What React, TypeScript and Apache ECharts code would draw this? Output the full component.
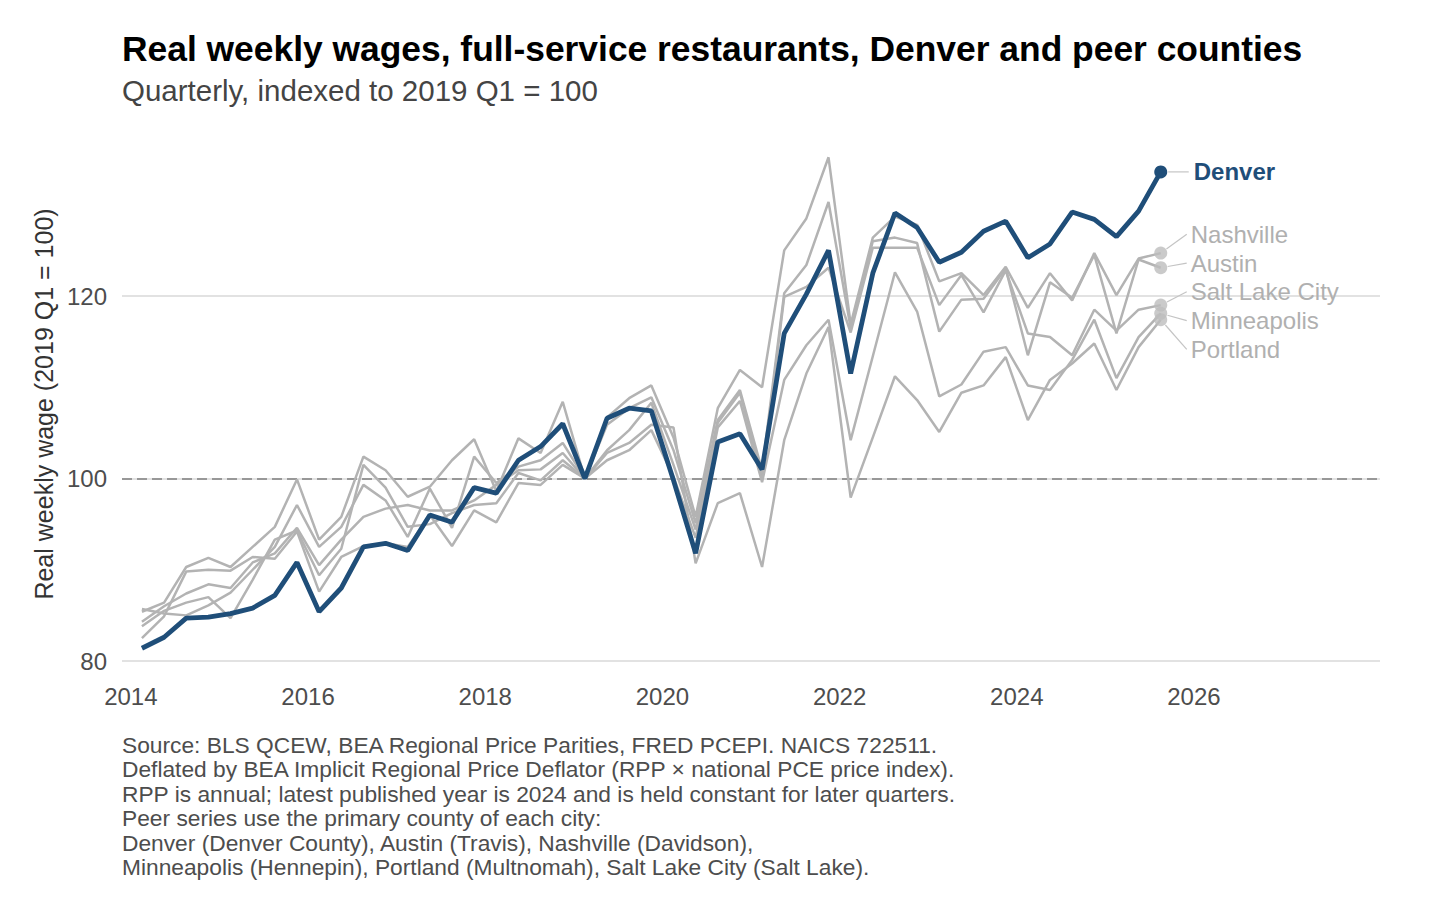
import React, { useEffect, useRef } from "react";
import * as echarts from "echarts";

const QUARTERS = [
  "2014 Q1", "2014 Q2", "2014 Q3", "2014 Q4",
  "2015 Q1", "2015 Q2", "2015 Q3", "2015 Q4",
  "2016 Q1", "2016 Q2", "2016 Q3", "2016 Q4",
  "2017 Q1", "2017 Q2", "2017 Q3", "2017 Q4",
  "2018 Q1", "2018 Q2", "2018 Q3", "2018 Q4",
  "2019 Q1", "2019 Q2", "2019 Q3", "2019 Q4",
  "2020 Q1", "2020 Q2", "2020 Q3", "2020 Q4",
  "2021 Q1", "2021 Q2", "2021 Q3", "2021 Q4",
  "2022 Q1", "2022 Q2", "2022 Q3", "2022 Q4",
  "2023 Q1", "2023 Q2", "2023 Q3", "2023 Q4",
  "2024 Q1", "2024 Q2", "2024 Q3", "2024 Q4",
  "2025 Q1", "2025 Q2", "2025 Q3",
];

const DENVER = [
  81.4, 82.6, 84.7, 84.8, 85.2, 85.8, 87.2, 90.8, 85.4, 88.0, 92.5, 92.9,
  92.1, 96.0, 95.2, 99.0, 98.4, 102.0, 103.5, 106.0, 100.0, 106.6, 107.7, 107.4,
  99.8, 91.8, 104.0, 104.9, 101.0, 115.9, 120.2, 125.0, 111.5, 122.5, 129.1, 127.5,
  123.7, 124.8, 127.1, 128.2, 124.2, 125.7, 129.2, 128.4, 126.5, 129.3, 133.6,
];

const NASHVILLE = [
  85.4, 86.4, 90.3, 91.3, 90.3, 92.5, 94.7, 99.9, 93.3, 95.8, 102.4, 100.9,
  98.0, 99.1, 102.0, 104.3, 98.6, 104.4, 102.8, 108.4, 100.0, 106.7, 108.8, 110.2,
  104.5, 95.8, 107.7, 111.9, 110.0, 125.0, 128.5, 135.2, 116.9, 126.4, 128.7, 127.8,
  121.6, 122.5, 120.1, 123.2, 118.7, 122.5, 119.5, 124.7, 120.1, 124.1, 124.7,
];

const AUSTIN = [
  85.7, 85.2, 85.0, 86.1, 87.5, 90.0, 92.5, 97.1, 92.5, 94.7, 99.3, 97.6,
  93.6, 98.9, 94.6, 102.4, 99.5, 101.3, 102.0, 103.9, 100.0, 105.9, 107.7, 108.9,
  103.1, 95.1, 106.4, 109.7, 100.9, 120.3, 123.4, 130.3, 116.5, 126.0, 126.4, 125.8,
  116.1, 119.6, 119.7, 123.0, 113.5, 121.5, 119.8, 124.5, 115.9, 124.0, 123.1,
];

const SALT_LAKE_CITY = [
  84.3, 86.0, 87.4, 88.4, 88.0, 90.8, 91.8, 94.6, 90.5, 93.3, 95.8, 96.7,
  97.1, 96.5, 96.5, 97.6, 99.3, 100.9, 101.0, 102.8, 100.0, 103.1, 105.3, 108.3,
  101.5, 94.4, 106.1, 109.4, 100.2, 119.9, 121.0, 123.1, 116.0, 125.3, 125.3, 125.3,
  119.0, 122.3, 118.2, 122.8, 115.9, 115.5, 113.5, 118.5, 116.2, 118.5, 119.0,
];

const MINNEAPOLIS = [
  82.5, 84.9, 89.8, 90.0, 89.9, 91.4, 91.2, 94.2, 87.6, 91.4, 92.6, 92.9,
  92.5, 96.0, 92.6, 96.5, 95.2, 99.5, 99.3, 101.5, 100.0, 102.0, 103.1, 105.3,
  100.2, 93.5, 105.6, 108.5, 99.6, 110.8, 114.6, 117.4, 104.2, 113.4, 122.6, 118.3,
  109.0, 110.3, 113.9, 114.4, 110.2, 109.7, 113.0, 117.4, 111.0, 115.5, 118.1,
];

const PORTLAND = [
  83.8, 85.5, 86.4, 87.0, 84.7, 88.9, 93.3, 94.3, 89.4, 92.3, 101.5, 99.0,
  94.7, 95.0, 96.2, 97.1, 97.3, 100.6, 99.8, 102.0, 100.0, 102.8, 103.9, 105.9,
  105.6, 90.7, 97.3, 98.4, 90.3, 104.2, 111.5, 116.6, 97.9, 104.5, 111.2, 108.6,
  105.1, 109.4, 110.2, 113.3, 106.4, 110.8, 112.6, 114.8, 109.7, 114.4, 117.4,
];

const PEER_NAMES = ["Nashville", "Austin", "Salt Lake City", "Minneapolis", "Portland"];
const PEER_VALUES = [NASHVILLE, AUSTIN, SALT_LAKE_CITY, MINNEAPOLIS, PORTLAND];

const X_TICKS = [2014, 2016, 2018, 2020, 2022, 2024, 2026];
const Y_TICKS = [80, 100, 120];

const TITLE = "Real weekly wages, full-service restaurants, Denver and peer counties";
const SUBTITLE = "Quarterly, indexed to 2019 Q1 = 100";
const Y_TITLE = "Real weekly wage (2019 Q1 = 100)";
const CAPTION = [
  "Source: BLS QCEW, BEA Regional Price Parities, FRED PCEPI. NAICS 722511.",
  "Deflated by BEA Implicit Regional Price Deflator (RPP \u00d7 national PCE price index).",
  "RPP is annual; latest published year is 2024 and is held constant for later quarters.",
  "Peer series use the primary county of each city:",
  "Denver (Denver County), Austin (Travis), Nashville (Davidson),",
  "Minneapolis (Hennepin), Portland (Multnomah), Salt Lake City (Salt Lake).",
];

const FONT = '"Liberation Sans", Arial, Helvetica, sans-serif';
const BLUE = "#1f4e79";
const GRAY = "#b3b3b3";
const LABEL_GRAY = "#b0b0b0";

const quarterToYear = (q: string) =>
  parseInt(q.slice(0, 4), 10) + (parseInt(q.slice(6), 10) - 1) * 0.25 + 0.125;

const XS = QUARTERS.map(quarterToYear);
const pairs = (vals: number[]) => vals.map((v, i) => [XS[i], v]);

export default function App() {
  const ref = useRef<HTMLDivElement>(null);

  useEffect(() => {
    if (!ref.current) return;
    const chart = echarts.init(ref.current, undefined, { renderer: "svg" });
    const last = XS.length - 1;

    const grayLines = PEER_NAMES.map((name, k) => ({
      name,
      type: "line",
      data: pairs(PEER_VALUES[k]),
      showSymbol: false,
      symbol: "none",
      silent: true,
      z: 2,
      lineStyle: { color: GRAY, width: 2.5 },
    }));

    const option: any = {
      animation: false,
      backgroundColor: "#ffffff",
      grid: {
        left: 122,
        right: 76,
        top: 113.5,
        bottom: 249,
        containLabel: false,
        outerBoundsMode: "none",
      },
      xAxis: {
        type: "value",
        min: 2013.9,
        max: 2028.1,
        axisLine: { show: false },
        axisTick: { show: false },
        splitLine: { show: false },
        axisLabel: {
          customValues: X_TICKS,
          fontSize: 24,
          fontFamily: FONT,
          color: "#4d4d4d",
          margin: 23,
          formatter: (v: number) => String(v),
        },
      },
      yAxis: [
        {
          type: "value",
          min: 80,
          max: 140,
          interval: 20,
          axisLine: { show: false },
          axisTick: { show: false },
          splitLine: {
            show: true,
            lineStyle: {
              color: ["#e2e2e2", "#e2e2e2", "#e2e2e2", "rgba(0,0,0,0)"],
              width: 2,
            },
          },
          axisLabel: {
            fontSize: 24,
            fontFamily: FONT,
            color: "#4d4d4d",
            margin: 15,
            formatter: (v: number) => (Y_TICKS.indexOf(v) >= 0 ? String(v) : ""),
          },
        },
        {
          type: "value",
          min: 80,
          max: 140,
          interval: 20,
          position: "left",
          axisLine: { show: false },
          axisTick: { show: false },
          axisLabel: { show: false },
          splitLine: {
            show: true,
            lineStyle: {
              color: ["rgba(0,0,0,0)", "#808080", "rgba(0,0,0,0)", "rgba(0,0,0,0)"],
              width: 1.6,
              type: [10, 5],
            },
          },
        },
      ],
      series: [
        ...grayLines,
        {
          name: "Denver",
          type: "line",
          data: pairs(DENVER),
          showSymbol: false,
          symbol: "none",
          silent: true,
          z: 3,
          lineStyle: { color: BLUE, width: 4.8 },
        },
        {
          name: "peer-ends",
          type: "scatter",
          data: PEER_VALUES.map((vals) => [XS[last], vals[last]]),
          symbolSize: 13,
          silent: true,
          z: 4,
          itemStyle: { color: "#bdbdbd" },
        },
        {
          name: "denver-end",
          type: "scatter",
          data: [[XS[last], DENVER[last]]],
          symbolSize: 13,
          silent: true,
          z: 5,
          itemStyle: { color: BLUE, opacity: 1 },
        },
      ],
    };

    chart.setOption(option);

    const toPx = (x: number, y: number) =>
      chart.convertToPixel({ gridIndex: 0 } as any, [x, y]) as number[];

    const graphics: any[] = [];

    graphics.push({
      type: "text",
      x: 122,
      y: 49,
      style: {
        text: TITLE,
        fontSize: 35.4,
        fontWeight: "bold",
        fontFamily: FONT,
        fill: "#000000",
        align: "left",
        verticalAlign: "middle",
      },
    });
    graphics.push({
      type: "text",
      x: 122,
      y: 90,
      style: {
        text: SUBTITLE,
        fontSize: 29.5,
        fontFamily: FONT,
        fill: "#444444",
        align: "left",
        verticalAlign: "middle",
      },
    });
    graphics.push({
      type: "text",
      x: 44,
      y: 404,
      rotation: Math.PI / 2,
      style: {
        text: Y_TITLE,
        fontSize: 25,
        fontFamily: FONT,
        fill: "#333333",
        align: "center",
        verticalAlign: "middle",
      },
    });
    CAPTION.forEach((line, i) => {
      graphics.push({
        type: "text",
        x: 122,
        y: 745 + i * 24.4,
        style: {
          text: line,
          fontSize: 22.75,
          fontFamily: FONT,
          fill: "#4d4d4d",
          align: "left",
          verticalAlign: "middle",
        },
      });
    });

    // End labels with leader lines (simple repel: evenly spaced around the dots' mean)
    const spacing = 28.75;
    const peerPts = PEER_VALUES.map((vals) => toPx(XS[last], vals[last]));
    const order = peerPts
      .map((p, k) => ({ k, y: p[1] }))
      .sort((a, b) => a.y - b.y)
      .map((o) => o.k);
    const meanY = peerPts.reduce((s, p) => s + p[1], 0) / peerPts.length;
    order.forEach((k, rank) => {
      const p = peerPts[k];
      const ly = meanY + (rank - (order.length - 1) / 2) * spacing;
      const lx = p[0] + 30;
      const ex = lx - 4;
      const dx = ex - p[0];
      const dy = ly - p[1];
      const len = Math.sqrt(dx * dx + dy * dy) || 1;
      graphics.push({
        type: "line",
        z: 10,
        shape: { x1: p[0] + (dx / len) * 7, y1: p[1] + (dy / len) * 7, x2: ex, y2: ly },
        style: { stroke: "#c4c4c4", lineWidth: 1.2 },
      });
      graphics.push({
        type: "text",
        z: 10,
        x: lx,
        y: ly,
        style: {
          text: PEER_NAMES[k],
          fontSize: 24,
          fontFamily: FONT,
          fill: LABEL_GRAY,
          align: "left",
          verticalAlign: "middle",
        },
      });
    });

    const dp = toPx(XS[last], DENVER[last]);
    graphics.push({
      type: "line",
      z: 10,
      shape: { x1: dp[0] + 7.5, y1: dp[1], x2: dp[0] + 28, y2: dp[1] },
      style: { stroke: "#c4c4c4", lineWidth: 1.2 },
    });
    graphics.push({
      type: "text",
      z: 10,
      x: dp[0] + 33,
      y: dp[1],
      style: {
        text: "Denver",
        fontSize: 24,
        fontWeight: "bold",
        fontFamily: FONT,
        fill: BLUE,
        align: "left",
        verticalAlign: "middle",
      },
    });

    chart.setOption({ graphic: graphics });

    return () => {
      chart.dispose();
    };
  }, []);

  return (
    <div
      ref={ref}
      style={{ position: "absolute", left: 0, top: 0, width: 1456, height: 910, background: "#ffffff" }}
    />
  );
}
